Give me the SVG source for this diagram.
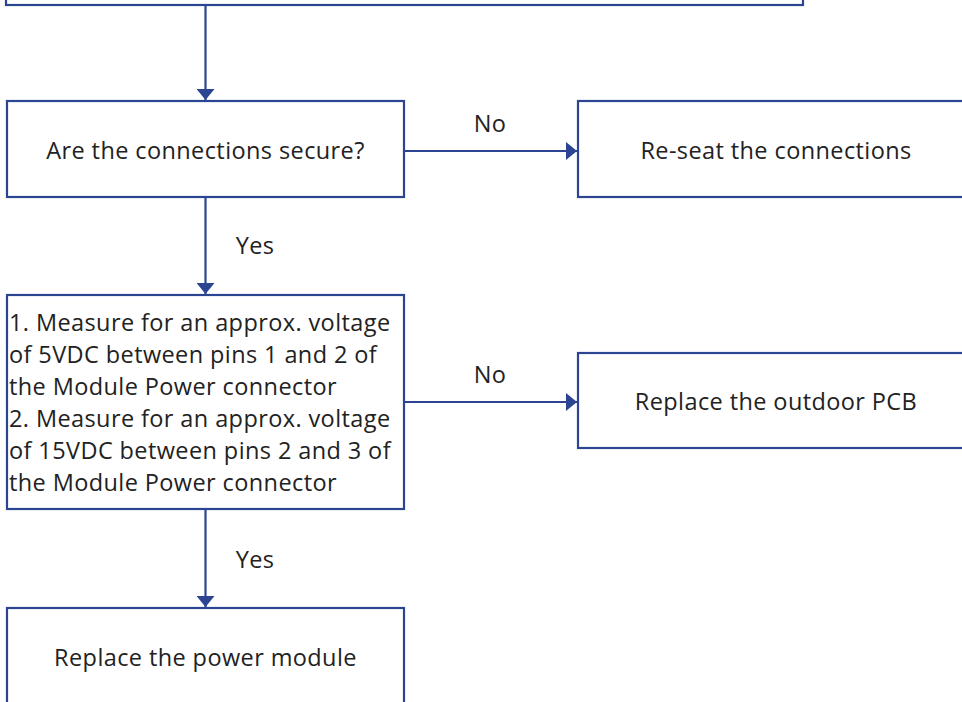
<svg xmlns="http://www.w3.org/2000/svg" width="962" height="702" viewBox="0 0 962 702">
<defs>
<style>
.box{fill:#fff;stroke:#2b4593;stroke-width:2.2}
.ln{fill:none;stroke:#2b4593;stroke-width:2.2}
.t{font-family:"Open Sans","Liberation Sans",Arial,sans-serif;font-size:23.5px;letter-spacing:0.4px;fill:#222}
.c{text-anchor:middle}
</style>
<marker id="ah" viewBox="0 0 11 18" refX="11" refY="9" markerWidth="11" markerHeight="18" markerUnits="userSpaceOnUse" orient="auto">
<path d="M0,0 L11,9 L0,18 Z" fill="#2b4593"/>
</marker>
</defs>
<rect width="962" height="702" fill="#fff"/>
<g id="n0"><rect class="box" x="6" y="-60" width="797" height="65"/></g>
<g id="n1"><rect class="box" x="7" y="101" width="397" height="96"/>
<text class="t c" x="205.5" y="159">Are the connections secure?</text></g>
<g id="n2"><rect class="box" x="578" y="101" width="396" height="96"/>
<text class="t c" x="776" y="159">Re-seat the connections</text></g>
<g id="n3"><rect class="box" x="7" y="295" width="397" height="214"/>
<text class="t" x="9" y="331">1. Measure for an approx. voltage</text>
<text class="t" x="9" y="363">of 5VDC between pins 1 and 2 of</text>
<text class="t" x="9" y="395">the Module Power connector</text>
<text class="t" x="9" y="427">2. Measure for an approx. voltage</text>
<text class="t" x="9" y="459">of 15VDC between pins 2 and 3 of</text>
<text class="t" x="9" y="491">the Module Power connector</text></g>
<g id="n4"><rect class="box" x="578" y="353" width="396" height="95"/>
<text class="t c" x="776" y="410">Replace the outdoor PCB</text></g>
<g id="n5"><rect class="box" x="7" y="608" width="397" height="110"/>
<text class="t c" x="205.5" y="666">Replace the power module</text></g>
<g id="edges">
<line class="ln" x1="205.5" y1="6" x2="205.5" y2="100" marker-end="url(#ah)"/>
<line class="ln" x1="404" y1="151" x2="577" y2="151" marker-end="url(#ah)"/>
<text class="t c" x="490" y="132">No</text>
<line class="ln" x1="205.5" y1="197" x2="205.5" y2="294" marker-end="url(#ah)"/>
<text class="t c" x="255" y="254">Yes</text>
<line class="ln" x1="404" y1="402" x2="577" y2="402" marker-end="url(#ah)"/>
<text class="t c" x="490" y="383">No</text>
<line class="ln" x1="205.5" y1="509" x2="205.5" y2="607" marker-end="url(#ah)"/>
<text class="t c" x="255" y="568">Yes</text>
</g>
</svg>
